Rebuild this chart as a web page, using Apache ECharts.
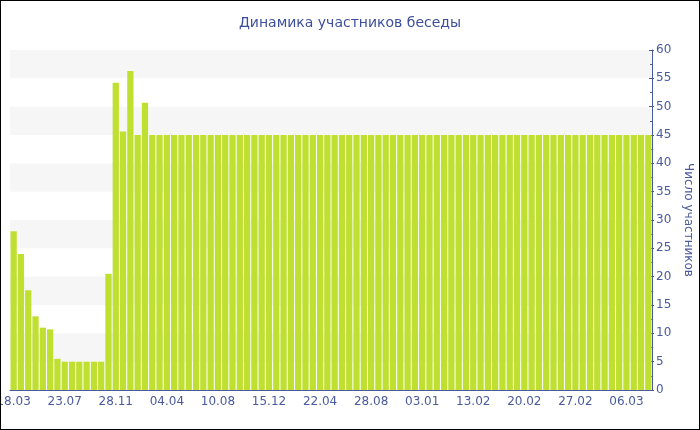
<!DOCTYPE html>
<html>
<head>
<meta charset="utf-8">
<script src="https://cdn.jsdelivr.net/npm/echarts@6/dist/echarts.min.js"></script>
<style>
  html, body { margin: 0; padding: 0; background: #fff; }
  #chart { width: 700px; height: 430px; box-sizing: border-box; border: 1px solid #000; }
</style>
</head>
<body>
<div id="chart"></div>
<script>
// даты замеров (подписи оси X)
const dates = [
  '18.03', '05.04', '23.04', '11.05', '29.05', '16.06', '04.07',
  '23.07', '10.08', '28.08', '15.09', '03.10', '21.10', '08.11',
  '28.11', '16.12', '03.01', '21.01', '08.02', '26.02', '16.03',
  '04.04', '22.04', '10.05', '28.05', '15.06', '03.07', '22.07',
  '10.08', '28.08', '15.09', '03.10', '21.10', '08.11', '27.11',
  '15.12', '02.01', '20.01', '07.02', '25.02', '15.03', '03.04',
  '22.04', '10.05', '28.05', '15.06', '03.07', '21.07', '09.08',
  '28.08', '15.09', '03.10', '21.10', '08.11', '26.11', '15.12',
  '03.01', '09.01', '15.01', '21.01', '27.01', '02.02', '08.02',
  '13.02', '14.02', '15.02', '16.02', '17.02', '18.02', '19.02',
  '20.02', '21.02', '22.02', '23.02', '24.02', '25.02', '26.02',
  '27.02', '28.02', '01.03', '02.03', '03.03', '04.03', '05.03',
  '06.03', '07.03', '08.03', '09.03'
]

// число участников
const members = [
  28, 24, 17.6, 13, 11, 10.7, 5.5,
  5, 5, 5, 5, 5, 5, 20.5,
  54.2, 45.6, 56.3, 45, 50.7, 45, 45,
  45, 45, 45, 45, 45, 45, 45,
  45, 45, 45, 45, 45, 45, 45,
  45, 45, 45, 45, 45, 45, 45,
  45, 45, 45, 45, 45, 45, 45,
  45, 45, 45, 45, 45, 45, 45,
  45, 45, 45, 45, 45, 45, 45,
  45, 45, 45, 45, 45, 45, 45,
  45, 45, 45, 45, 45, 45, 45,
  45, 45, 45, 45, 45, 45, 45,
  45, 45, 45, 45
]

const yMin = 0
const yMax = 60
const yStep = 5

const blue = '#4a5a9e'
const font = 'DejaVu Sans'

const chart = echarts.init(document.getElementById('chart'))
chart.setOption({
  animation: false,
  title: {
    text: 'Динамика участников беседы',
    left: 'center',
    top: 10,
    textStyle: { color: '#3d4f9c', fontSize: 14, fontWeight: 'normal', fontFamily: font }
  },
  grid: { left: 9, right: 47, top: 49, bottom: 39, outerBoundsMode: 'none', containLabel: false },
  xAxis: {
    type: 'category',
    data: dates,
    axisLine: { lineStyle: { color: blue } },
    axisTick: { interval: 6, alignWithLabel: true, length: 3, lineStyle: { color: blue } },
    axisLabel: { interval: 6, color: blue, fontSize: 12, fontFamily: font, margin: 6 }
  },
  yAxis: [{
    type: 'value',
    position: 'right',
    min: yMin,
    max: yMax,
    interval: yStep,
    name: 'Число участников',
    nameLocation: 'middle',
    nameRotate: -90,
    nameGap: 30,
    nameTextStyle: { color: blue, fontSize: 12, fontFamily: font },
    axisLine: { show: true, lineStyle: { color: blue } },
    axisTick: { show: true, inside: true, length: 3, lineStyle: { color: blue } },
    minorTick: { show: true, splitNumber: 2, length: 2, lineStyle: { color: blue } },
    axisLabel: { color: blue, fontSize: 12, fontFamily: font, margin: 4 },
    splitLine: { show: false },
    splitArea: { show: true, areaStyle: { color: ['rgba(255,255,255,0)', '#f6f6f6'] } }
  }, {
    // внешняя часть засечек
    type: 'value',
    position: 'right',
    min: yMin,
    max: yMax,
    interval: yStep,
    axisLine: { show: false },
    axisTick: { show: true, length: 2, lineStyle: { color: blue } },
    axisLabel: { show: false },
    splitLine: { show: false }
  }],
  series: [{
    name: 'Число участников',
    type: 'bar',
    data: members,
    barCategoryGap: '14%',
    itemStyle: { color: '#bfe030' }
  }]
})
</script>
</body>
</html>
